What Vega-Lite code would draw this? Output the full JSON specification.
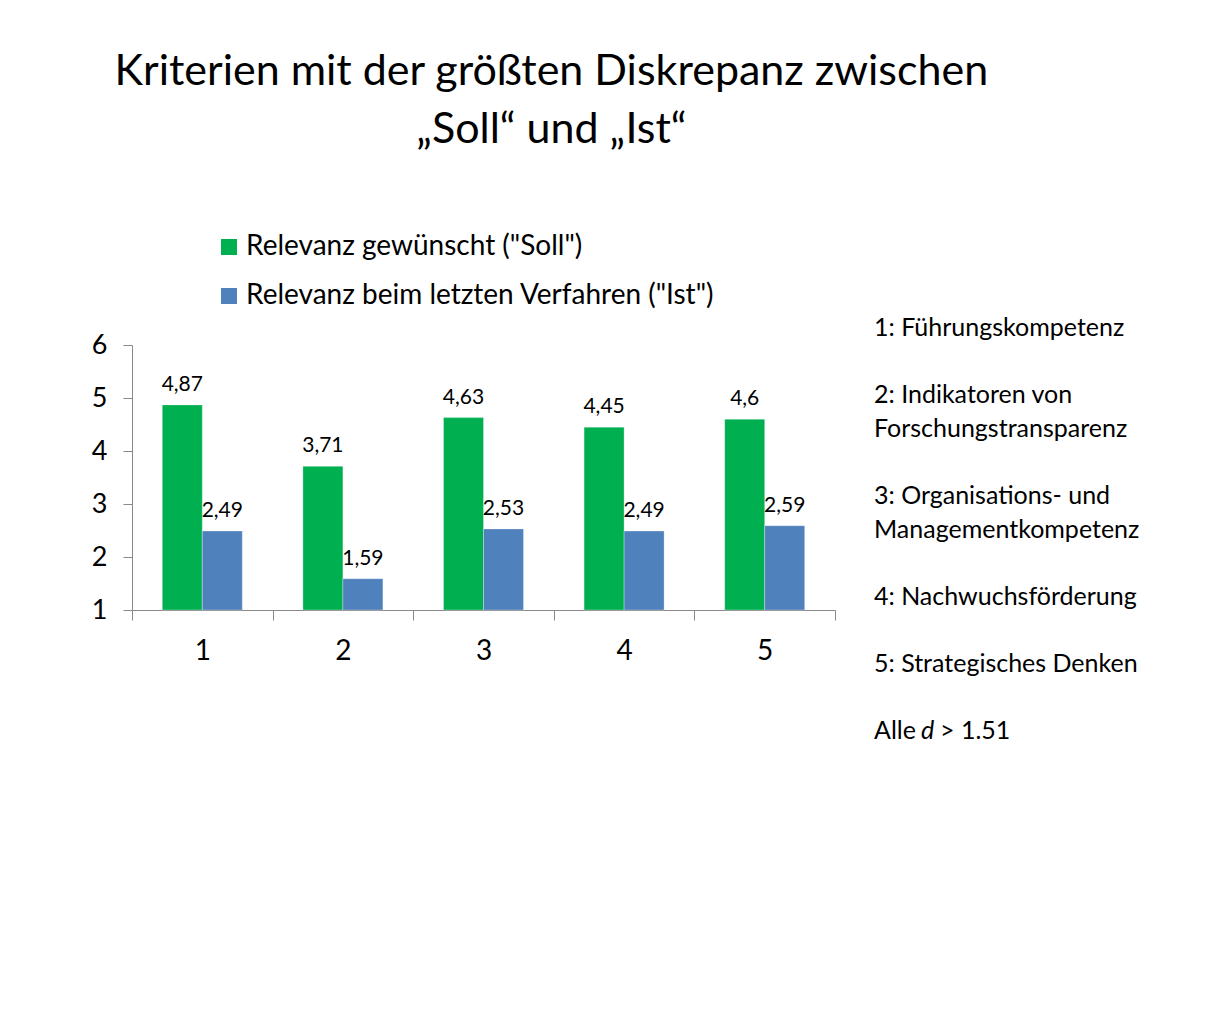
{
  "$schema": "https://vega.github.io/schema/vega-lite/v6.json",
  "background": "white",
  "padding": {"left": 91, "top": 51, "right": 5, "bottom": 5},
  "config": {
    "font": "Lato",
    "view": {"stroke": null},
    "concat": {"spacing": 37},
    "locale": {"number": {"decimal": ",", "thousands": ".", "grouping": [3], "currency": ["", " €"]}}
  },
  "title": {
    "text": ["Kriterien mit der größten Diskrepanz zwischen", "„Soll“ und „Ist“"],
    "fontSize": 43,
    "fontWeight": "normal",
    "font": "Lato",
    "color": "black",
    "anchor": "start",
    "align": "center",
    "dx": 460,
    "lineHeight": 58,
    "offset": 81
  },
  "datasets": {
    "scores": [
      {"Kriterium": "1", "Serie": "Relevanz gewünscht (\"Soll\")", "Wert": 4.87},
      {"Kriterium": "1", "Serie": "Relevanz beim letzten Verfahren (\"Ist\")", "Wert": 2.49},
      {"Kriterium": "2", "Serie": "Relevanz gewünscht (\"Soll\")", "Wert": 3.71},
      {"Kriterium": "2", "Serie": "Relevanz beim letzten Verfahren (\"Ist\")", "Wert": 1.59},
      {"Kriterium": "3", "Serie": "Relevanz gewünscht (\"Soll\")", "Wert": 4.63},
      {"Kriterium": "3", "Serie": "Relevanz beim letzten Verfahren (\"Ist\")", "Wert": 2.53},
      {"Kriterium": "4", "Serie": "Relevanz gewünscht (\"Soll\")", "Wert": 4.45},
      {"Kriterium": "4", "Serie": "Relevanz beim letzten Verfahren (\"Ist\")", "Wert": 2.49},
      {"Kriterium": "5", "Serie": "Relevanz gewünscht (\"Soll\")", "Wert": 4.6},
      {"Kriterium": "5", "Serie": "Relevanz beim letzten Verfahren (\"Ist\")", "Wert": 2.59}
    ],
    "notes": [
      {"row": 0, "label": "1: Führungskompetenz"},
      {"row": 2, "label": "2: Indikatoren von"},
      {"row": 3, "label": "Forschungstransparenz"},
      {"row": 5, "label": "3: Organisations- und"},
      {"row": 6, "label": "Managementkompetenz"},
      {"row": 8, "label": "4: Nachwuchsförderung"},
      {"row": 10, "label": "5: Strategisches Denken"},
      {"row": 12, "label": "Alle"}
    ],
    "italic": [{"row": 12, "label": "d"}],
    "rest": [{"row": 12, "label": "> 1.51"}]
  },
  "hconcat": [
    {
      "width": 703,
      "height": 265,
      "data": {"name": "scores"},
      "encoding": {
        "x": {
          "field": "Kriterium",
          "type": "ordinal",
          "scale": {"paddingInner": 0, "paddingOuter": 0},
          "axis": {
            "title": null,
            "labelAngle": 0,
            "labelFontSize": 28,
            "labelColor": "black",
            "labelPadding": 17,
            "tickBand": "extent",
            "tickSize": 10,
            "tickColor": "#898989",
            "domainColor": "#898989"
          }
        },
        "xOffset": {
          "field": "Serie",
          "type": "nominal",
          "scale": {
            "domain": ["Relevanz gewünscht (\"Soll\")", "Relevanz beim letzten Verfahren (\"Ist\")"],
            "paddingInner": 0,
            "paddingOuter": 0.7575
          }
        },
        "y": {
          "field": "Wert",
          "type": "quantitative",
          "scale": {"domain": [1, 6], "zero": false, "nice": false},
          "axis": {
            "title": null,
            "values": [1, 2, 3, 4, 5, 6],
            "grid": false,
            "labelFontSize": 27,
            "labelColor": "black",
            "labelPadding": 16,
            "tickSize": 9,
            "tickColor": "#898989",
            "domainColor": "#898989"
          }
        }
      },
      "layer": [
        {
          "mark": {"type": "bar", "stroke": "white", "strokeWidth": 0.5, "strokeOpacity": 0.6},
          "encoding": {
            "y2": {"datum": 1},
            "color": {
              "field": "Serie",
              "type": "nominal",
              "scale": {
                "domain": ["Relevanz gewünscht (\"Soll\")", "Relevanz beim letzten Verfahren (\"Ist\")"],
                "range": ["#00B050", "#4F81BD"]
              },
              "legend": {
                "orient": "none",
                "legendX": 83,
                "legendY": -112,
                "direction": "vertical",
                "title": null,
                "symbolType": "square",
                "symbolSize": 256,
                "symbolStrokeWidth": 0,
                "labelFontSize": 28,
                "labelColor": "black",
                "labelOffset": 3,
                "labelLimit": 0,
                "rowPadding": 21
              }
            }
          }
        },
        {
          "mark": {"type": "text", "fontSize": 21, "color": "black", "baseline": "alphabetic", "dy": -14},
          "encoding": {
            "text": {"field": "Wert", "type": "quantitative", "format": ".3~r"}
          }
        }
      ]
    },
    {
      "width": 2,
      "height": 420,
      "encoding": {
        "y": {
          "field": "row",
          "type": "quantitative",
          "scale": {"domain": [0.5, 13], "reverse": true, "zero": false, "nice": false},
          "axis": null
        },
        "text": {"field": "label", "type": "nominal"}
      },
      "layer": [
        {
          "data": {"name": "notes"},
          "mark": {"type": "text", "align": "left", "baseline": "middle", "fontSize": 25, "color": "black"}
        },
        {
          "data": {"name": "italic"},
          "mark": {"type": "text", "align": "left", "baseline": "middle", "fontSize": 25, "fontStyle": "italic", "color": "black", "dx": 47}
        },
        {
          "data": {"name": "rest"},
          "mark": {"type": "text", "align": "left", "baseline": "middle", "fontSize": 25, "color": "black", "dx": 66}
        }
      ]
    }
  ]
}
